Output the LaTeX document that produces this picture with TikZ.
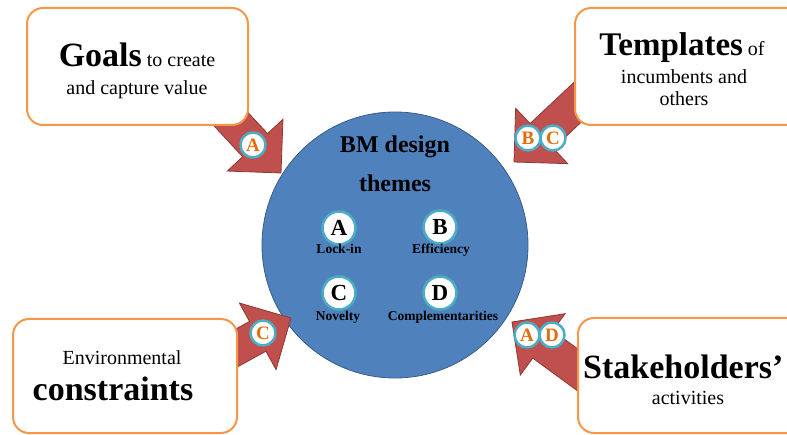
\documentclass[tikz,border=0pt]{standalone}
\usepackage{fontspec}
\setmainfont{Liberation Serif}
\usetikzlibrary{calc}
\definecolor{arrowred}{HTML}{C0504D}
\definecolor{arrowedge}{HTML}{8C3836}
\definecolor{themeblue}{HTML}{4F81BD}
\definecolor{themeedge}{HTML}{385D8A}
\definecolor{boxorange}{HTML}{F79646}
\definecolor{badgeteal}{HTML}{4BACC6}
\definecolor{letterorange}{HTML}{E46C0A}
\newcommand{\fs}[1]{\fontsize{#1}{#1}\selectfont}
\newcommand{\blockarrow}[2]{%
  \coordinate (hb) at ($(#2)!38pt!(#1)$);
  \filldraw[arrowstyle] ($(#1)!17pt!90:(#2)$) -- ($(hb)!17pt!90:(#2)$) -- ($(hb)!38pt!90:(#2)$) -- (#2) -- ($(hb)!38pt!-90:(#2)$) -- ($(hb)!17pt!-90:(#2)$) -- ($(#1)!17pt!-90:(#2)$) -- cycle;}
\begin{document}
\begin{tikzpicture}[x=1pt,y=-1pt,
  box/.style={draw=boxorange, line width=2pt, fill=white, rounded corners=16pt, rectangle},
  arrowstyle/.style={fill=arrowred, draw=arrowedge, line width=0.8pt, line join=miter},
  outerbadge/.style={circle, draw=badgeteal, line width=2.5pt, fill=white, minimum size=25pt, inner sep=0pt, text=letterorange, font=\fs{19}\bfseries},
  innerbadge/.style={circle, draw=badgeteal, line width=2.5pt, fill=white, minimum size=33pt, inner sep=0pt, text=black, font=\fs{23}\bfseries},
  lab/.style={anchor=base, inner sep=0pt, font=\fs{13.5}\bfseries},
  txt/.style={anchor=base, inner sep=0pt}]
\useasboundingbox (0,0) rectangle (787,435);
\clip (0,0) rectangle (787,435);
% main circle
\node[circle, fill=themeblue, draw=themeedge, line width=0.8pt, minimum size=266pt] (theme) at (395,245) {};
% arrows
\coordinate (t1) at (215,102); \coordinate (p1) at (281,173);
\coordinate (t2) at (597,84);  \coordinate (p2) at (514,162);
\coordinate (t3) at (222,356); \coordinate (p3) at (291,318);
\coordinate (t4) at (597,384); \coordinate (p4) at (512,322);
\blockarrow{t1}{p1}
\blockarrow{t2}{p2}
\blockarrow{t3}{p3}
\blockarrow{t4}{p4}
% boxes
\node[box, minimum width=221pt, minimum height=117pt] (goals) at (137.5,66.5) {};
\node[box, minimum width=240pt, minimum height=117pt] (templates) at (695,66.5) {};
\node[box, minimum width=224pt, minimum height=114pt] (env) at (125,376) {};
\node[box, minimum width=240pt, minimum height=115pt] (stake) at (698,375.5) {};
% box texts
\node[txt] (goalsA) at (137,67) {\fs{34}\textbf{Goals}\fs{20} to create};
\node[txt] (goalsB) at (137,95) {\fs{20}and capture value};
\node[txt] (tempA) at (682,56) {\fs{33}\textbf{Templates}\fs{20} of};
\node[txt] (tempB) at (684,84) {\fs{20}incumbents and};
\node[txt] (tempC) at (684,106) {\fs{20}others};
\node[txt] (envA) at (122,365) {\fs{20}Environmental};
\node[txt] (envB) at (113,400) {\fs{34}\bfseries constraints};
\node[txt, anchor=base west] (stakeA) at (583,378) {\fs{34}\bfseries Stakeholders’};
\node[txt] (stakeB) at (688,405) {\fs{20}activities};
% circle texts
\node[txt] (bm1) at (395,153) {\fs{24}\bfseries BM design};
\node[txt] (bm2) at (395,192) {\fs{24}\bfseries themes};
\node[innerbadge] (iA) at (339,228) {A};
\node[innerbadge] (iB) at (440,227) {B};
\node[innerbadge] (iC) at (339,293) {C};
\node[innerbadge] (iD) at (440,293) {D};
\node[lab] (lA) at (339,254) {Lock-in};
\node[lab] (lB) at (441,254) {Efficiency};
\node[lab] (lC) at (338,321) {Novelty};
\node[lab] (lD) at (443,321) {Complementarities};
% arrow badges
\node[outerbadge] (a1) at (253,145) {A};
\node[outerbadge] (b2) at (528,138) {B};
\node[outerbadge] (c2) at (553,138) {C};
\node[outerbadge] (c3) at (263,333) {C};
\node[outerbadge] (a4) at (527,335) {A};
\node[outerbadge] (d4) at (552,335) {D};
\end{tikzpicture}
\end{document}
